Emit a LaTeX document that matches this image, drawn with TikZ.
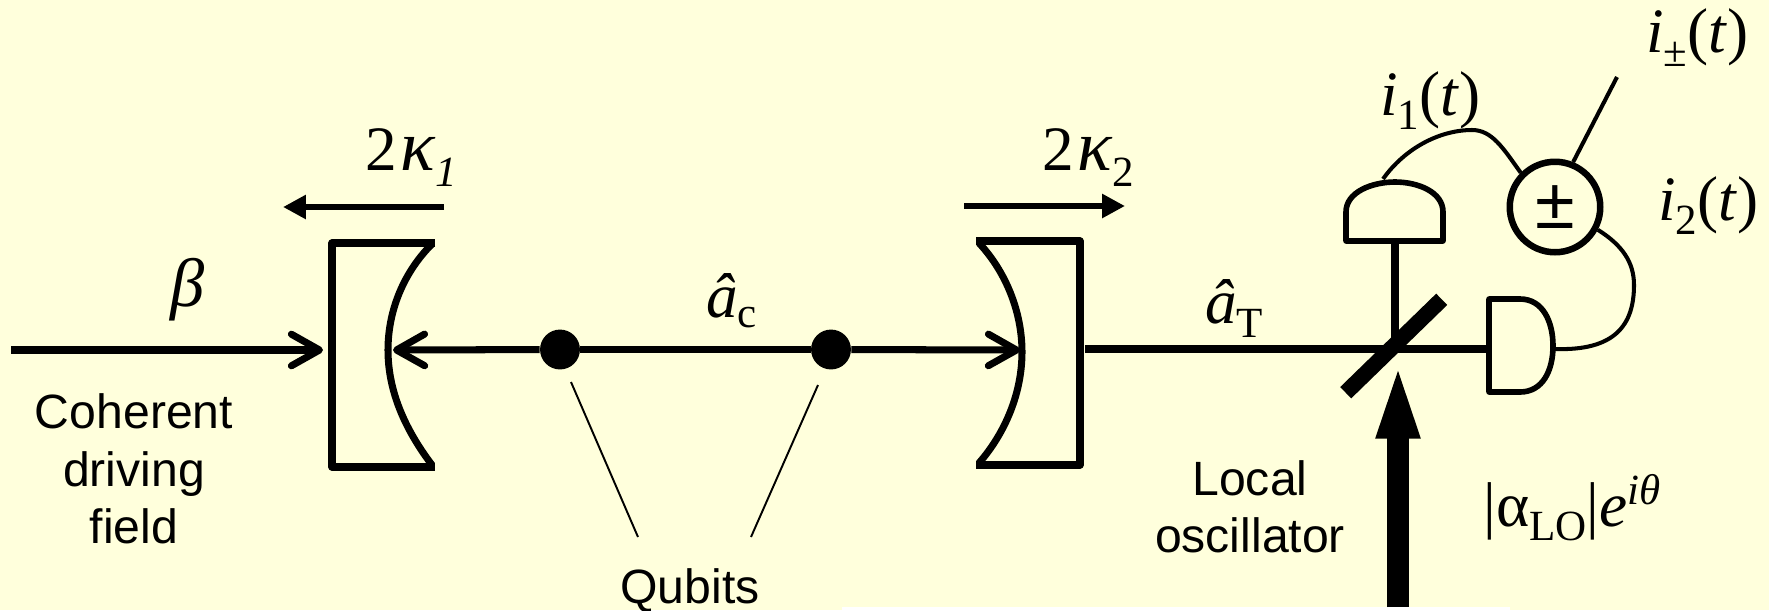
\documentclass[tikz,border=0pt]{standalone}
\usepackage{fontspec}
\setmainfont{Liberation Serif}
\setsansfont{Liberation Sans}
\usetikzlibrary{arrows.meta}
\definecolor{slidebg}{RGB}{255,255,220}
\newcommand{\lowsub}[2][-8.5pt]{\raisebox{#1}{\fontsize{24.5}{24.5}\selectfont #2}}
\newcommand{\highsup}[1]{\raisebox{12pt}{\fontsize{24.5}{24.5}\selectfont #1}}
\newcommand{\bigkappa}{\fontsize{41}{41}\selectfont\textit{κ}}

\begin{document}
\begin{tikzpicture}[x=0.02cm,y=-0.02cm,
    beam/.style={line width=4pt},
    mirror/.style={line width=4pt,line join=round},
    detector/.style={draw,line width=3.2pt,line join=round},
    wire/.style={line width=2.3pt},
    pointer/.style={line width=1.1pt},
    flow/.style={line width=3.4pt,-{Triangle[length=13pt,width=13pt]}},
    barb/.style={-{Straight Barb[length=16pt,width=18pt,line width=4pt,round]}},
    qubit/.style={circle,fill=black,minimum size=22.7pt,inner sep=0pt},
    mathlabel/.style={anchor=base west,inner sep=0pt,font=\fontsize{36}{40}\selectfont},
    textlabel/.style={align=center,inner sep=0pt,font=\sffamily\fontsize{27.4}{32.6}\selectfont}]
    \fill[slidebg] (0,0) rectangle (1769,610);
    \useasboundingbox (0,0) rectangle (1769,610);
    \fill[white] (842,607) rectangle (1510,610);

    \coordinate (source) at (11,350);
    \coordinate (backL) at (323,350);
    \coordinate (frontL) at (393,350);
    \coordinate (frontR) at (1020,350);
    \coordinate (outR) at (1085,349);
    \coordinate (split) at (1395,349);
    \coordinate (det1in) at (1395,242);
    \coordinate (det1out) at (1383,179);
    \coordinate (det2in) at (1489,349);
    \coordinate (det2out) at (1555,349);
    \coordinate (sumout) at (1617,77);
    \coordinate (losource) at (1398,607);
    \coordinate (lotip) at (1398,355);
    \coordinate (ptr1) at (638,537);
    \coordinate (ptr2) at (751,537);

    \draw[mirror] (435,243) -- (332,243) -- (332,467) -- (435,467);
    \draw[mirror] (432,244) .. controls (404,272) and (388,310) .. (388,350) .. controls (388,390) and (404,428) .. (432,465);
    \draw[mirror] (976,241) -- (1080,241) -- (1080,465) -- (976,465);
    \draw[mirror] (979,243) .. controls (1006,272) and (1022,312) .. (1022,352) .. controls (1022,392) and (1006,432) .. (979,463);

    \node[qubit] (q1) at (560,349.5) {};
    \node[qubit] (q2) at (831,349.5) {};
    \draw[beam,barb] (source) -- (backL);
    \draw[beam,barb] (q1) -- (frontL);
    \draw[beam] (q1) -- (q2);
    \draw[beam,barb] (q2) -- (frontR);
    \draw[beam] (outR) -- (det2in);
    \draw[beam] (split) -- (det1in);
    \draw[line width=9pt] (1345.7,392.7) -- (1441.7,299.3);
    \draw[line width=12.5pt,-{Triangle[length=47.6pt,width=21pt]}] (losource) -- (lotip);

    \draw[flow] (444,207) -- (283,207);
    \draw[flow] (964,206) -- (1125,206);

    \draw[detector] (1346,241) -- (1346,212) .. controls (1346,192) and (1372,182) .. (1395,182) .. controls (1418,182) and (1443,192) .. (1443,212) -- (1443,241) -- cycle;
    \draw[detector] (1489,299) -- (1520,299) .. controls (1543,299) and (1553,322) .. (1553,346) .. controls (1553,370) and (1543,392) .. (1520,392) -- (1489,392) -- cycle;
    \node[circle,draw,line width=3.7pt,minimum size=51.5pt,inner sep=0pt,font=\sffamily\fontsize{41}{41}\selectfont] (sum) at (1555,207) {±};

    \draw[wire] (det1out) .. controls (1405,148) and (1440,130) .. (1472,130) .. controls (1492,130) and (1503,148) .. (sum.135);
    \draw[wire] (sum.-28) .. controls (1622,245) and (1634,262) .. (1634,285) .. controls (1634,325) and (1615,351) .. (det2out);
    \draw[wire] (sum.68) -- (sumout);
    \draw[pointer] (571,382) -- (ptr1);
    \draw[pointer] (818,385) -- (ptr2);

    \node[mathlabel] (iplus) at (1646,52) {\textit{i}\lowsub{±}(\textit{t})};
    \node[mathlabel] (ione) at (1380,115) {\textit{i}\lowsub{1}(\textit{t})};
    \node[mathlabel] (itwo) at (1658,220) {\textit{i}\lowsub{2}(\textit{t})};
    \node[mathlabel] (kappa1) at (365,170) {2\hspace{2pt}{\bigkappa}\lowsub[-9.5pt]{\textit{1}}};
    \node[mathlabel] (kappa2) at (1042,170) {2\hspace{2pt}{\bigkappa}\lowsub[-9.5pt]{2}};
    \node[mathlabel,font=\fontsize{39}{39}\selectfont] (drive) at (170,306) {\textit{β}};
    \node[mathlabel] (cavity) at (706,317) {\textit{â}\lowsub[-6pt]{c}};
    \node[mathlabel] (trans) at (1205,323) {\textit{â}\lowsub{T}};
    \node[mathlabel] (loamp) at (1483,526) {|α\lowsub{LO}|\textit{e}\highsup{\textit{iθ}}};

    \node[textlabel] (drivetext) at (134,469) {Coherent\\driving\\field};
    \node[textlabel,anchor=base] (qubittext) at (690,603) {Qubits};
    \node[textlabel] (lotext) at (1250,507) {Local\\oscillator};
\end{tikzpicture}
\end{document}
